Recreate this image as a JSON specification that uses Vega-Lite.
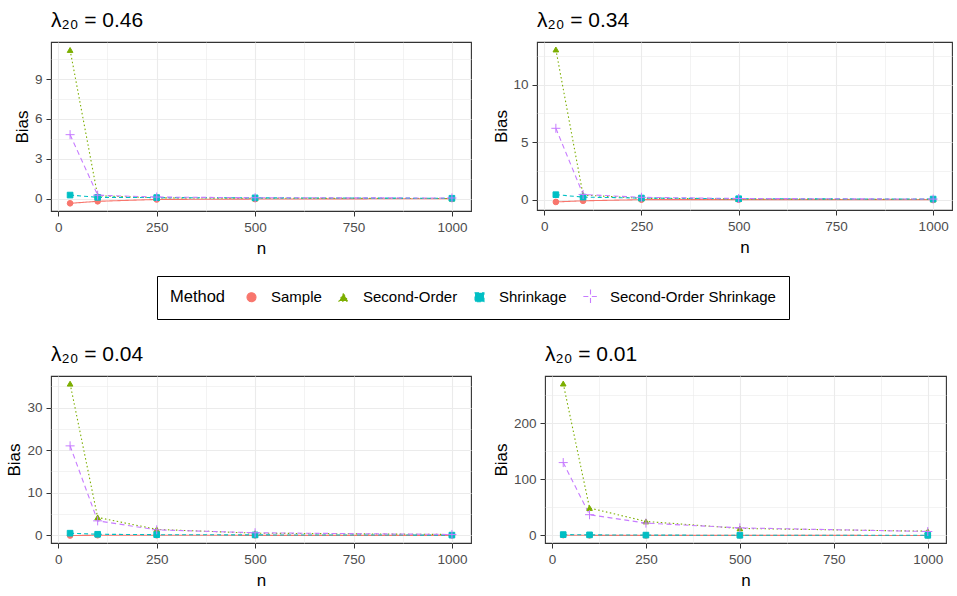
{
  "$schema": "https://vega.github.io/schema/vega-lite/v6.json",
  "padding": {"left": 4, "top": 9, "right": 5, "bottom": 5},
  "datasets": {
    "bias": [
      {"panel": "0.46", "Method": "Sample", "n": 30, "Bias": -0.35},
      {"panel": "0.46", "Method": "Sample", "n": 100, "Bias": -0.2},
      {"panel": "0.46", "Method": "Sample", "n": 250, "Bias": -0.06},
      {"panel": "0.46", "Method": "Sample", "n": 500, "Bias": -0.03},
      {"panel": "0.46", "Method": "Sample", "n": 1000, "Bias": 0.0},
      {"panel": "0.46", "Method": "Second-Order", "n": 30, "Bias": 11.2},
      {"panel": "0.46", "Method": "Second-Order", "n": 100, "Bias": 0.22},
      {"panel": "0.46", "Method": "Second-Order", "n": 250, "Bias": 0.06},
      {"panel": "0.46", "Method": "Second-Order", "n": 500, "Bias": 0.03},
      {"panel": "0.46", "Method": "Second-Order", "n": 1000, "Bias": 0.01},
      {"panel": "0.46", "Method": "Shrinkage", "n": 30, "Bias": 0.27},
      {"panel": "0.46", "Method": "Shrinkage", "n": 100, "Bias": 0.1},
      {"panel": "0.46", "Method": "Shrinkage", "n": 250, "Bias": 0.08},
      {"panel": "0.46", "Method": "Shrinkage", "n": 500, "Bias": 0.06},
      {"panel": "0.46", "Method": "Shrinkage", "n": 1000, "Bias": 0.03},
      {"panel": "0.46", "Method": "Second-Order Shrinkage", "n": 30, "Bias": 4.82},
      {"panel": "0.46", "Method": "Second-Order Shrinkage", "n": 100, "Bias": 0.26},
      {"panel": "0.46", "Method": "Second-Order Shrinkage", "n": 250, "Bias": 0.12},
      {"panel": "0.46", "Method": "Second-Order Shrinkage", "n": 500, "Bias": 0.07},
      {"panel": "0.46", "Method": "Second-Order Shrinkage", "n": 1000, "Bias": 0.05},

      {"panel": "0.34", "Method": "Sample", "n": 30, "Bias": -0.2},
      {"panel": "0.34", "Method": "Sample", "n": 100, "Bias": -0.1},
      {"panel": "0.34", "Method": "Sample", "n": 250, "Bias": 0.0},
      {"panel": "0.34", "Method": "Sample", "n": 500, "Bias": 0.0},
      {"panel": "0.34", "Method": "Sample", "n": 1000, "Bias": 0.0},
      {"panel": "0.34", "Method": "Second-Order", "n": 30, "Bias": 13.05},
      {"panel": "0.34", "Method": "Second-Order", "n": 100, "Bias": 0.4},
      {"panel": "0.34", "Method": "Second-Order", "n": 250, "Bias": 0.12},
      {"panel": "0.34", "Method": "Second-Order", "n": 500, "Bias": 0.06},
      {"panel": "0.34", "Method": "Second-Order", "n": 1000, "Bias": 0.02},
      {"panel": "0.34", "Method": "Shrinkage", "n": 30, "Bias": 0.43},
      {"panel": "0.34", "Method": "Shrinkage", "n": 100, "Bias": 0.22},
      {"panel": "0.34", "Method": "Shrinkage", "n": 250, "Bias": 0.14},
      {"panel": "0.34", "Method": "Shrinkage", "n": 500, "Bias": 0.08},
      {"panel": "0.34", "Method": "Shrinkage", "n": 1000, "Bias": 0.05},
      {"panel": "0.34", "Method": "Second-Order Shrinkage", "n": 30, "Bias": 6.2},
      {"panel": "0.34", "Method": "Second-Order Shrinkage", "n": 100, "Bias": 0.45},
      {"panel": "0.34", "Method": "Second-Order Shrinkage", "n": 250, "Bias": 0.2},
      {"panel": "0.34", "Method": "Second-Order Shrinkage", "n": 500, "Bias": 0.1},
      {"panel": "0.34", "Method": "Second-Order Shrinkage", "n": 1000, "Bias": 0.05},

      {"panel": "0.04", "Method": "Sample", "n": 30, "Bias": -0.05},
      {"panel": "0.04", "Method": "Sample", "n": 100, "Bias": 0.02},
      {"panel": "0.04", "Method": "Sample", "n": 250, "Bias": 0.01},
      {"panel": "0.04", "Method": "Sample", "n": 500, "Bias": 0.0},
      {"panel": "0.04", "Method": "Sample", "n": 1000, "Bias": 0.0},
      {"panel": "0.04", "Method": "Second-Order", "n": 30, "Bias": 35.6},
      {"panel": "0.04", "Method": "Second-Order", "n": 100, "Bias": 4.2},
      {"panel": "0.04", "Method": "Second-Order", "n": 250, "Bias": 1.4},
      {"panel": "0.04", "Method": "Second-Order", "n": 500, "Bias": 0.5},
      {"panel": "0.04", "Method": "Second-Order", "n": 1000, "Bias": 0.2},
      {"panel": "0.04", "Method": "Shrinkage", "n": 30, "Bias": 0.5},
      {"panel": "0.04", "Method": "Shrinkage", "n": 100, "Bias": 0.25},
      {"panel": "0.04", "Method": "Shrinkage", "n": 250, "Bias": 0.15},
      {"panel": "0.04", "Method": "Shrinkage", "n": 500, "Bias": 0.1},
      {"panel": "0.04", "Method": "Shrinkage", "n": 1000, "Bias": 0.05},
      {"panel": "0.04", "Method": "Second-Order Shrinkage", "n": 30, "Bias": 21.0},
      {"panel": "0.04", "Method": "Second-Order Shrinkage", "n": 100, "Bias": 3.4},
      {"panel": "0.04", "Method": "Second-Order Shrinkage", "n": 250, "Bias": 1.3},
      {"panel": "0.04", "Method": "Second-Order Shrinkage", "n": 500, "Bias": 0.6},
      {"panel": "0.04", "Method": "Second-Order Shrinkage", "n": 1000, "Bias": 0.2},

      {"panel": "0.01", "Method": "Sample", "n": 30, "Bias": 0.5},
      {"panel": "0.01", "Method": "Sample", "n": 100, "Bias": 0.2},
      {"panel": "0.01", "Method": "Sample", "n": 250, "Bias": 0.1},
      {"panel": "0.01", "Method": "Sample", "n": 500, "Bias": 0.05},
      {"panel": "0.01", "Method": "Sample", "n": 1000, "Bias": 0.0},
      {"panel": "0.01", "Method": "Second-Order", "n": 30, "Bias": 271},
      {"panel": "0.01", "Method": "Second-Order", "n": 100, "Bias": 49},
      {"panel": "0.01", "Method": "Second-Order", "n": 250, "Bias": 25},
      {"panel": "0.01", "Method": "Second-Order", "n": 500, "Bias": 12.5},
      {"panel": "0.01", "Method": "Second-Order", "n": 1000, "Bias": 7.5},
      {"panel": "0.01", "Method": "Shrinkage", "n": 30, "Bias": 1.5},
      {"panel": "0.01", "Method": "Shrinkage", "n": 100, "Bias": 1.0},
      {"panel": "0.01", "Method": "Shrinkage", "n": 250, "Bias": 0.6},
      {"panel": "0.01", "Method": "Shrinkage", "n": 500, "Bias": 0.3},
      {"panel": "0.01", "Method": "Shrinkage", "n": 1000, "Bias": 0.2},
      {"panel": "0.01", "Method": "Second-Order Shrinkage", "n": 30, "Bias": 130},
      {"panel": "0.01", "Method": "Second-Order Shrinkage", "n": 100, "Bias": 37},
      {"panel": "0.01", "Method": "Second-Order Shrinkage", "n": 250, "Bias": 22},
      {"panel": "0.01", "Method": "Second-Order Shrinkage", "n": 500, "Bias": 13.5},
      {"panel": "0.01", "Method": "Second-Order Shrinkage", "n": 1000, "Bias": 7}
    ]
  },
  "config": {
    "font": "Liberation Sans",
    "view": {"stroke": "#333333", "strokeWidth": 1.1},
    "axis": {
      "domain": false,
      "gridColor": "#EBEBEB",
      "tickColor": "#333333",
      "tickSize": 5,
      "labelColor": "#4D4D4D",
      "labelFontSize": 13.5,
      "labelPadding": 4,
      "titleFontSize": 17,
      "titleFontWeight": "normal",
      "titleColor": "black",
      "titlePadding": 2,
      "format": "d"
    },
    "axisX": {"labelPadding": 4, "titlePadding": 7},
    "title": {"anchor": "start", "frame": "group", "fontSize": 21, "fontWeight": "normal", "color": "black", "offset": 11},
    "legend": {
      "orient": "none",
      "legendX": 106,
      "legendY": 234,
      "direction": "horizontal",
      "titleOrient": "left",
      "titleFontSize": 16.5,
      "titleFontWeight": "normal",
      "titleColor": "black",
      "titlePadding": 18,
      "labelFontSize": 15,
      "labelColor": "black",
      "labelLimit": 300,
      "labelOffset": 12,
      "columnPadding": 14,
      "symbolSize": 80,
      "symbolStrokeWidth": 1.1,
      "strokeColor": "black",
      "padding": 13
    }
  },
  "columns": 2,
  "align": "none",
  "spacing": {"row": 85, "column": 19},
  "concat": [
    {
      "width": 420,
      "height": 169,
      "title": "λ₂₀ = 0.46",
      "data": {"name": "bias"},
      "transform": [{"filter": "datum.panel === '0.46'"}],
      "encoding": {
        "x": {"field": "n", "type": "quantitative", "title": "n",
          "scale": {"domain": [-18.5, 1048.5], "nice": false, "zero": false},
          "axis": {"values": [0, 125, 250, 375, 500, 625, 750, 875, 1000],
            "labelExpr": "datum.value % 250 === 0 ? datum.label : ''",
            "tickOpacity": {"condition": {"test": "datum.value % 250 !== 0", "value": 0}, "value": 1},
            "gridWidth": {"condition": {"test": "datum.value % 250 !== 0", "value": 0.6}, "value": 1.1}}},
        "y": {"field": "Bias", "type": "quantitative", "title": "Bias",
          "scale": {"domain": [-0.93, 11.8], "nice": false, "zero": false},
          "axis": {"values": [0, 1.5, 3, 4.5, 6, 7.5, 9, 10.5], "minExtent": 18, "maxExtent": 18,
            "labelExpr": "datum.value % 3 === 0 ? datum.label : ''",
            "tickOpacity": {"condition": {"test": "datum.value % 3 !== 0", "value": 0}, "value": 1},
            "gridWidth": {"condition": {"test": "datum.value % 3 !== 0", "value": 0.6}, "value": 1.1}}},
        "color": {"field": "Method", "type": "nominal", "title": "Method",
          "scale": {"domain": ["Sample", "Second-Order", "Shrinkage", "Second-Order Shrinkage"], "range": ["#F8766D", "#7CAE00", "#00BFC4", "#C77CFF"]},
          "legend": {"orient": "none", "legendX": 106, "legendY": 234, "direction": "horizontal", "titleOrient": "left", "labelLimit": 300}}
      },
      "layer": [
        {"mark": {"type": "line", "strokeWidth": 1.1},
          "encoding": {"strokeDash": {"field": "Method", "type": "nominal", "title": "Method",
            "scale": {"domain": ["Sample", "Second-Order", "Shrinkage", "Second-Order Shrinkage"], "range": [[1, 0], [1.5, 2.5], [4, 3], [5, 3.5]]}}}},
        {"mark": {"type": "point", "filled": true, "size": 32, "opacity": 1, "strokeWidth": 1},
          "encoding": {
            "shape": {"field": "Method", "type": "nominal", "legend": null,
              "scale": {"domain": ["Sample", "Second-Order", "Shrinkage", "Second-Order Shrinkage"], "range": ["circle", "triangle-up", "square", "M-1.6,0H1.6M0,-1.6V1.6"]}},
            "stroke": {"field": "Method", "type": "nominal", "legend": null,
              "scale": {"domain": ["Sample", "Second-Order", "Shrinkage", "Second-Order Shrinkage"], "range": ["#F8766D", "#7CAE00", "#00BFC4", "#C77CFF"]}}}}
      ]
    },
    {
      "width": 415,
      "height": 168,
      "title": "λ₂₀ = 0.34",
      "data": {"name": "bias"},
      "transform": [{"filter": "datum.panel === '0.34'"}],
      "encoding": {
        "x": {"field": "n", "type": "quantitative", "title": "n",
          "scale": {"domain": [-18.5, 1048.5], "nice": false, "zero": false},
          "axis": {"values": [0, 125, 250, 375, 500, 625, 750, 875, 1000],
            "labelExpr": "datum.value % 250 === 0 ? datum.label : ''",
            "tickOpacity": {"condition": {"test": "datum.value % 250 !== 0", "value": 0}, "value": 1},
            "gridWidth": {"condition": {"test": "datum.value % 250 !== 0", "value": 0.6}, "value": 1.1}}},
        "y": {"field": "Bias", "type": "quantitative", "title": "Bias",
          "scale": {"domain": [-0.9, 13.7], "nice": false, "zero": false},
          "axis": {"values": [0, 2.5, 5, 7.5, 10, 12.5], "minExtent": 25, "maxExtent": 25,
            "labelExpr": "datum.value % 5 === 0 ? datum.label : ''",
            "tickOpacity": {"condition": {"test": "datum.value % 5 !== 0", "value": 0}, "value": 1},
            "gridWidth": {"condition": {"test": "datum.value % 5 !== 0", "value": 0.6}, "value": 1.1}}},
        "color": {"field": "Method", "type": "nominal", "title": "Method",
          "scale": {"domain": ["Sample", "Second-Order", "Shrinkage", "Second-Order Shrinkage"], "range": ["#F8766D", "#7CAE00", "#00BFC4", "#C77CFF"]}}
      },
      "layer": [
        {"mark": {"type": "line", "strokeWidth": 1.1},
          "encoding": {"strokeDash": {"field": "Method", "type": "nominal", "title": "Method",
            "scale": {"domain": ["Sample", "Second-Order", "Shrinkage", "Second-Order Shrinkage"], "range": [[1, 0], [1.5, 2.5], [4, 3], [5, 3.5]]}}}},
        {"mark": {"type": "point", "filled": true, "size": 32, "opacity": 1, "strokeWidth": 1},
          "encoding": {
            "shape": {"field": "Method", "type": "nominal", "legend": null,
              "scale": {"domain": ["Sample", "Second-Order", "Shrinkage", "Second-Order Shrinkage"], "range": ["circle", "triangle-up", "square", "M-1.6,0H1.6M0,-1.6V1.6"]}},
            "stroke": {"field": "Method", "type": "nominal", "legend": null,
              "scale": {"domain": ["Sample", "Second-Order", "Shrinkage", "Second-Order Shrinkage"], "range": ["#F8766D", "#7CAE00", "#00BFC4", "#C77CFF"]}}}}
      ]
    },
    {
      "width": 420,
      "height": 167,
      "title": "λ₂₀ = 0.04",
      "data": {"name": "bias"},
      "transform": [{"filter": "datum.panel === '0.04'"}],
      "encoding": {
        "x": {"field": "n", "type": "quantitative", "title": "n",
          "scale": {"domain": [-18.5, 1048.5], "nice": false, "zero": false},
          "axis": {"values": [0, 125, 250, 375, 500, 625, 750, 875, 1000],
            "labelExpr": "datum.value % 250 === 0 ? datum.label : ''",
            "tickOpacity": {"condition": {"test": "datum.value % 250 !== 0", "value": 0}, "value": 1},
            "gridWidth": {"condition": {"test": "datum.value % 250 !== 0", "value": 0.6}, "value": 1.1}}},
        "y": {"field": "Bias", "type": "quantitative", "title": "Bias",
          "scale": {"domain": [-1.8, 37.4], "nice": false, "zero": false},
          "axis": {"values": [0, 5, 10, 15, 20, 25, 30, 35], "minExtent": 26, "maxExtent": 26,
            "labelExpr": "datum.value % 10 === 0 ? datum.label : ''",
            "tickOpacity": {"condition": {"test": "datum.value % 10 !== 0", "value": 0}, "value": 1},
            "gridWidth": {"condition": {"test": "datum.value % 10 !== 0", "value": 0.6}, "value": 1.1}}},
        "color": {"field": "Method", "type": "nominal", "title": "Method",
          "scale": {"domain": ["Sample", "Second-Order", "Shrinkage", "Second-Order Shrinkage"], "range": ["#F8766D", "#7CAE00", "#00BFC4", "#C77CFF"]}}
      },
      "layer": [
        {"mark": {"type": "line", "strokeWidth": 1.1},
          "encoding": {"strokeDash": {"field": "Method", "type": "nominal", "title": "Method",
            "scale": {"domain": ["Sample", "Second-Order", "Shrinkage", "Second-Order Shrinkage"], "range": [[1, 0], [1.5, 2.5], [4, 3], [5, 3.5]]}}}},
        {"mark": {"type": "point", "filled": true, "size": 32, "opacity": 1, "strokeWidth": 1},
          "encoding": {
            "shape": {"field": "Method", "type": "nominal", "legend": null,
              "scale": {"domain": ["Sample", "Second-Order", "Shrinkage", "Second-Order Shrinkage"], "range": ["circle", "triangle-up", "square", "M-1.6,0H1.6M0,-1.6V1.6"]}},
            "stroke": {"field": "Method", "type": "nominal", "legend": null,
              "scale": {"domain": ["Sample", "Second-Order", "Shrinkage", "Second-Order Shrinkage"], "range": ["#F8766D", "#7CAE00", "#00BFC4", "#C77CFF"]}}}}
      ]
    },
    {
      "width": 401,
      "height": 167,
      "title": "λ₂₀ = 0.01",
      "data": {"name": "bias"},
      "transform": [{"filter": "datum.panel === '0.01'"}],
      "encoding": {
        "x": {"field": "n", "type": "quantitative", "title": "n",
          "scale": {"domain": [-18.5, 1048.5], "nice": false, "zero": false},
          "axis": {"values": [0, 125, 250, 375, 500, 625, 750, 875, 1000],
            "labelExpr": "datum.value % 250 === 0 ? datum.label : ''",
            "tickOpacity": {"condition": {"test": "datum.value % 250 !== 0", "value": 0}, "value": 1},
            "gridWidth": {"condition": {"test": "datum.value % 250 !== 0", "value": 0.6}, "value": 1.1}}},
        "y": {"field": "Bias", "type": "quantitative", "title": "Bias",
          "scale": {"domain": [-13.5, 284.5], "nice": false, "zero": false},
          "axis": {"values": [0, 50, 100, 150, 200, 250], "minExtent": 33, "maxExtent": 33,
            "labelExpr": "datum.value % 100 === 0 ? datum.label : ''",
            "tickOpacity": {"condition": {"test": "datum.value % 100 !== 0", "value": 0}, "value": 1},
            "gridWidth": {"condition": {"test": "datum.value % 100 !== 0", "value": 0.6}, "value": 1.1}}},
        "color": {"field": "Method", "type": "nominal", "title": "Method",
          "scale": {"domain": ["Sample", "Second-Order", "Shrinkage", "Second-Order Shrinkage"], "range": ["#F8766D", "#7CAE00", "#00BFC4", "#C77CFF"]}}
      },
      "layer": [
        {"mark": {"type": "line", "strokeWidth": 1.1},
          "encoding": {"strokeDash": {"field": "Method", "type": "nominal", "title": "Method",
            "scale": {"domain": ["Sample", "Second-Order", "Shrinkage", "Second-Order Shrinkage"], "range": [[1, 0], [1.5, 2.5], [4, 3], [5, 3.5]]}}}},
        {"mark": {"type": "point", "filled": true, "size": 32, "opacity": 1, "strokeWidth": 1},
          "encoding": {
            "shape": {"field": "Method", "type": "nominal", "legend": null,
              "scale": {"domain": ["Sample", "Second-Order", "Shrinkage", "Second-Order Shrinkage"], "range": ["circle", "triangle-up", "square", "M-1.6,0H1.6M0,-1.6V1.6"]}},
            "stroke": {"field": "Method", "type": "nominal", "legend": null,
              "scale": {"domain": ["Sample", "Second-Order", "Shrinkage", "Second-Order Shrinkage"], "range": ["#F8766D", "#7CAE00", "#00BFC4", "#C77CFF"]}}}}
      ]
    }
  ]
}
